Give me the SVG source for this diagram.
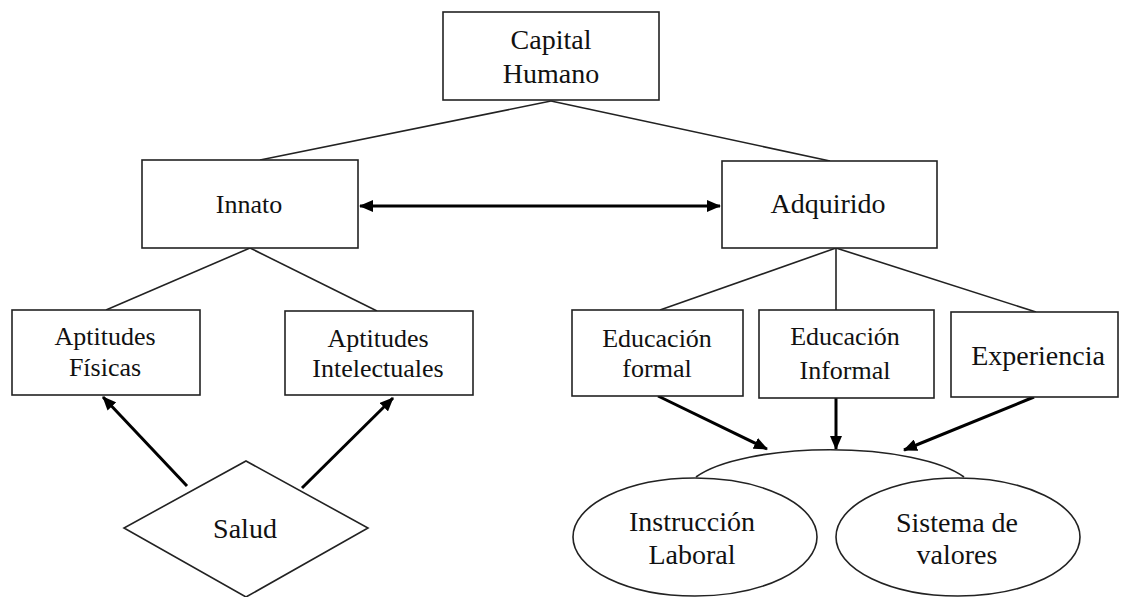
<svg xmlns="http://www.w3.org/2000/svg" width="1121" height="597" viewBox="0 0 1121 597">
<defs>
<marker id="ah" viewBox="0 0 14 12" refX="13" refY="6" markerWidth="14" markerHeight="12" markerUnits="userSpaceOnUse" orient="auto-start-reverse">
<path d="M0,0 L14,6 L0,12 z" fill="#000"/>
</marker>
<style>
.box{fill:#fff;stroke:#222;stroke-width:1.6}
.ln{stroke:#222;stroke-width:1.6;fill:none}
.ar{stroke:#000;stroke-width:3;fill:none}
text{font-family:"Liberation Serif","Times New Roman",serif;font-size:28px;fill:#111;text-anchor:middle}
.s{font-size:26px}
</style>
</defs>
<rect width="1121" height="597" fill="#fff"/>
<g id="connectors">
<line class="ln" x1="551" y1="101" x2="260" y2="160"/>
<line class="ln" x1="551" y1="101" x2="830" y2="161"/>
<line class="ln" x1="250" y1="248" x2="106" y2="310"/>
<line class="ln" x1="250" y1="248" x2="377" y2="311"/>
<line class="ln" x1="836" y1="248" x2="660" y2="310"/>
<line class="ln" x1="836" y1="248" x2="836" y2="310"/>
<line class="ln" x1="836" y1="248" x2="1036" y2="312"/>
<line class="ar" x1="360" y1="206" x2="720" y2="206" marker-start="url(#ah)" marker-end="url(#ah)"/>
<line class="ar" x1="187" y1="486" x2="103" y2="397" marker-end="url(#ah)"/>
<line class="ar" x1="302" y1="488" x2="393" y2="398" marker-end="url(#ah)"/>
<line class="ar" x1="658" y1="396" x2="767" y2="449" marker-end="url(#ah)"/>
<line class="ar" x1="836" y1="398" x2="836" y2="449" marker-end="url(#ah)"/>
<line class="ar" x1="1034" y1="397" x2="904" y2="450" marker-end="url(#ah)"/>
<path class="ln" d="M696,477 A145,44 0 0 1 964,477"/>
</g>
<g id="capital-humano">
<rect class="box" x="443" y="12" width="216" height="88"/>
<text x="551" y="49">Capital</text>
<text x="551" y="83">Humano</text>
</g>
<g id="innato">
<rect class="box" x="142" y="160" width="216" height="88"/>
<text class="s" x="249" y="213">Innato</text>
</g>
<g id="adquirido">
<rect class="box" x="722" y="161" width="215" height="87"/>
<text x="828" y="213">Adquirido</text>
</g>
<g id="aptitudes-fisicas">
<rect class="box" x="12" y="310" width="188" height="85"/>
<text class="s" x="105" y="345">Aptitudes</text>
<text class="s" x="105" y="376">Físicas</text>
</g>
<g id="aptitudes-intelectuales">
<rect class="box" x="285" y="311" width="188" height="84"/>
<text class="s" x="378" y="347">Aptitudes</text>
<text class="s" x="378" y="377">Intelectuales</text>
</g>
<g id="salud">
<polygon class="box" points="246,461 368,528 246,597 124,528"/>
<text x="245" y="538">Salud</text>
</g>
<g id="educacion-formal">
<rect class="box" x="572" y="310" width="171" height="86"/>
<text class="s" x="657" y="347">Educación</text>
<text class="s" x="657" y="377">formal</text>
</g>
<g id="educacion-informal">
<rect class="box" x="759" y="310" width="175" height="88"/>
<text class="s" x="845" y="345">Educación</text>
<text class="s" x="845" y="379">Informal</text>
</g>
<g id="experiencia">
<rect class="box" x="951" y="312" width="167" height="85"/>
<text x="1038" y="365">Experiencia</text>
</g>
<g id="instruccion-laboral">
<ellipse class="box" cx="695" cy="537" rx="122" ry="59"/>
<text x="692" y="531">Instrucción</text>
<text x="692" y="564">Laboral</text>
</g>
<g id="sistema-de-valores">
<ellipse class="box" cx="958" cy="537" rx="122" ry="59"/>
<text x="957" y="532">Sistema de</text>
<text x="957" y="564">valores</text>
</g>
</svg>
